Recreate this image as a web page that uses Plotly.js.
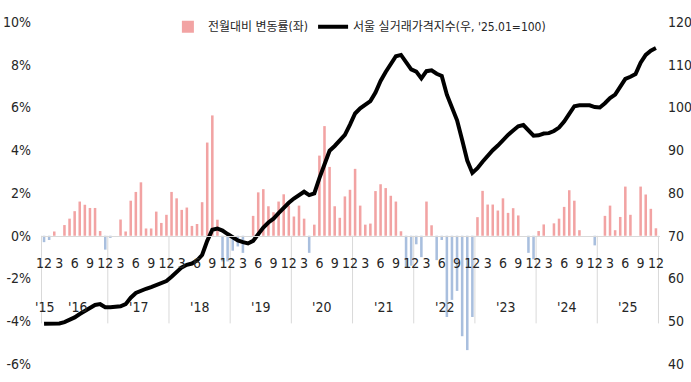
<!DOCTYPE html>
<html><head><meta charset="utf-8">
<script src="https://cdn.plot.ly/plotly-3.0.1.min.js"></script>
<style>html,body{margin:0;padding:0;background:#fff}#chart{width:691px;height:382px}</style>
</head><body><div id="chart"></div>
<script>
// Monthly, Dec 2015 .. Dec 2025 (121 months)
const monthlyChange = [
  -0.3,
  -0.2, 0.2, 0.0, 0.5, 0.8, 1.15, 1.6, 1.45, 1.3, 1.3, 0.22, -0.65,
  -0.1, 0.0, 0.76, 0.2, 1.64, 2.05, 2.5, 0.34, 0.34, 1.13, 0.6, 0.98,
  2.05, 1.75, 1.21, 1.32, 0.46, 0.55, 1.57, 4.36, 5.63, 0.75, -1.2, -1.2,
  -0.7, -0.5, -0.8, 0.0, 0.93, 2.03, 2.18, 1.38, 1.1, 1.6, 1.94, 1.41,
  0.9, 1.41, 0.8, -0.8, 0.52, 3.75, 5.13, 3.22, 1.38, 0.84, 1.84, 2.15,
  3.13, 1.41, 0.52, 0.57, 2.09, 2.41, 2.23, 1.87, 1.6, 0.21, -1.5, -1.4,
  -0.4, -1.0, 1.6, 0.49, -1.14, -0.2, -3.8, -3.0, -2.58, -4.7, -5.35, -3.8,
  0.87, 2.1, 1.46, 1.46, 1.18, 1.75, 1.07, 1.29, 0.95, 0.0, -0.8, -1.1,
  0.22, 0.53, 0.0, 0.58, 0.8, 1.35, 2.13, 1.64, 0.26, 0.0, 0.0, -0.45,
  0.0, 0.93, 1.41, 0.26, 0.88, 2.3, 0.98, 0.0, 2.3, 1.93, 1.26, 0.35
];
const priceIndex = [
  49.4,
  49.4, 49.4, 49.5, 49.8, 50.3, 50.9, 51.7, 52.4, 53.2, 53.8, 54.0, 53.3,
  53.3, 53.3, 53.5, 54.0, 55.5, 56.6, 57.2, 57.6, 58.0, 58.5, 59.0, 59.4,
  60.4, 61.5, 62.6, 63.2, 63.5, 64.2, 65.5, 68.8, 71.4, 71.7, 71.2, 70.4,
  69.6, 68.9, 68.5, 68.2, 68.8, 70.4, 71.9, 73.1, 74.0, 75.3, 76.6, 77.7,
  78.7, 79.6, 80.3, 79.5, 79.9, 83.5, 87.0, 89.9, 91.0, 92.2, 93.6, 96.0,
  98.6, 99.8, 100.6, 101.5, 103.5, 106.2, 108.3, 110.2, 112.0, 112.3, 110.5, 108.9,
  108.4, 106.8, 108.5, 108.7, 107.9, 107.4, 103.0, 99.8, 97.0, 92.4, 87.6, 84.7,
  85.8, 87.3, 88.7, 90.0, 91.1, 92.5, 93.6, 94.6, 95.6, 95.9, 94.6, 93.4,
  93.5, 93.9, 94.0, 94.5, 95.3, 96.7, 98.5, 100.3, 100.5, 100.5, 100.5, 100.1,
  100.0, 101.0, 102.2, 103.0, 104.8, 106.7, 107.2, 107.8, 110.5, 112.3, 113.3, 113.9
];
const monthTickText = ['12','3','6','9','12','3','6','9','12','3','6','9','12','3','6','9',
  '12','3','6','9','12','3','6','9','12','3','6','9','12','3','6','9','12','3','6','9',
  '12','3','6','9','12'];
const yearLabels = ["'15","'16","'17","'18","'19","'20","'21","'22","'23","'24","'25"];
const yearMonthCounts = [1,12,12,12,12,12,12,12,12,12,12];
const leftTickVals = [-6,-4,-2,0,2,4,6,8,10];
const leftTickText = ['-6%','-4%','-2%','0%','2%','4%','6%','8%','10%'];
const rightTickVals = [40,50,60,70,80,90,100,110,120];
const barName = '전월대비 변동률(좌)';
const lineName = "서울 실거래가격지수(우, '25.01=100)";

const xIdx = monthlyChange.map((_, i) => i);
const tickVals = monthTickText.map((_, k) => k * 3);

// year group centres & separators from the category structure
const yearCenters = [], separators = [-0.5];
let start = 0;
yearMonthCounts.forEach(c => { yearCenters.push(start + (c - 1) / 2); start += c; });
start = 0;
yearMonthCounts.forEach((c, k) => { start += c; if (k > 0) separators.push(start - 0.5); });

const FONT = '"Liberation Sans Narrow", "DejaVu Sans Condensed", "Noto Sans CJK KR", sans-serif';
const TXT = '#262626';
const POS = '#F2A3A3', NEG = '#A9BFDE';

const traces = [
  {type: 'bar', x: xIdx, y: monthlyChange.map(v => v >= 0 ? v : null), name: barName,
   marker: {color: POS}, width: 0.5, hoverinfo: 'skip'},
  {type: 'bar', x: xIdx, y: monthlyChange.map(v => v < 0 ? v : null), name: barName,
   marker: {color: NEG}, width: 0.5, showlegend: false, hoverinfo: 'skip'},
  {type: 'scatter', mode: 'lines', x: xIdx, y: priceIndex, yaxis: 'y2', name: lineName,
   line: {color: '#000', width: 4}, hoverinfo: 'skip'}
];

const shapes = separators.map(b => ({type: 'line', xref: 'x', yref: 'y', x0: b, x1: b, y0: 0, y1: -4.1,
  line: {color: '#d9d9d9', width: 1}, layer: 'below'}));

const annotations = yearLabels.map((t, k) => ({text: t, x: yearCenters[k], y: -3.35, xref: 'x', yref: 'y',
  showarrow: false, font: {family: FONT, size: 14, color: TXT}}));

const layout = {
  width: 691, height: 382,
  margin: {l: 41, r: 31, t: 17, b: 18},
  paper_bgcolor: '#fff', plot_bgcolor: '#fff',
  barmode: 'overlay',
  showlegend: true,
  legend: {orientation: 'h', x: 0.205, xanchor: 'left', y: 0.986, yanchor: 'middle',
    font: {family: FONT, size: 12, color: TXT}, bgcolor: 'rgba(0,0,0,0)', itemclick: false},
  xaxis: {range: [-0.6, 120.8], anchor: 'free', position: 0.375, showgrid: false, zeroline: false,
    showline: true, linecolor: '#d9d9d9', linewidth: 1,
    tickmode: 'array', tickvals: tickVals, ticktext: monthTickText,
    ticks: 'outside', ticklen: 14, tickcolor: 'rgba(0,0,0,0)',
    tickfont: {family: FONT, size: 14, color: TXT}},
  yaxis: {range: [-6, 10], tickmode: 'array', tickvals: leftTickVals, ticktext: leftTickText,
    showgrid: false, zeroline: false, showline: false, ticks: '', ticklabelstandoff: 9,
    tickfont: {family: FONT, size: 14, color: TXT}},
  yaxis2: {range: [40, 120], overlaying: 'y', side: 'right', tickmode: 'array',
    tickvals: rightTickVals, showgrid: false, zeroline: false, showline: false,
    ticks: '', ticklabelstandoff: 7, tickfont: {family: FONT, size: 14, color: TXT}},
  shapes: shapes,
  annotations: annotations
};

Plotly.newPlot('chart', traces, layout, {displayModeBar: false, staticPlot: true});
</script>
</body></html>
